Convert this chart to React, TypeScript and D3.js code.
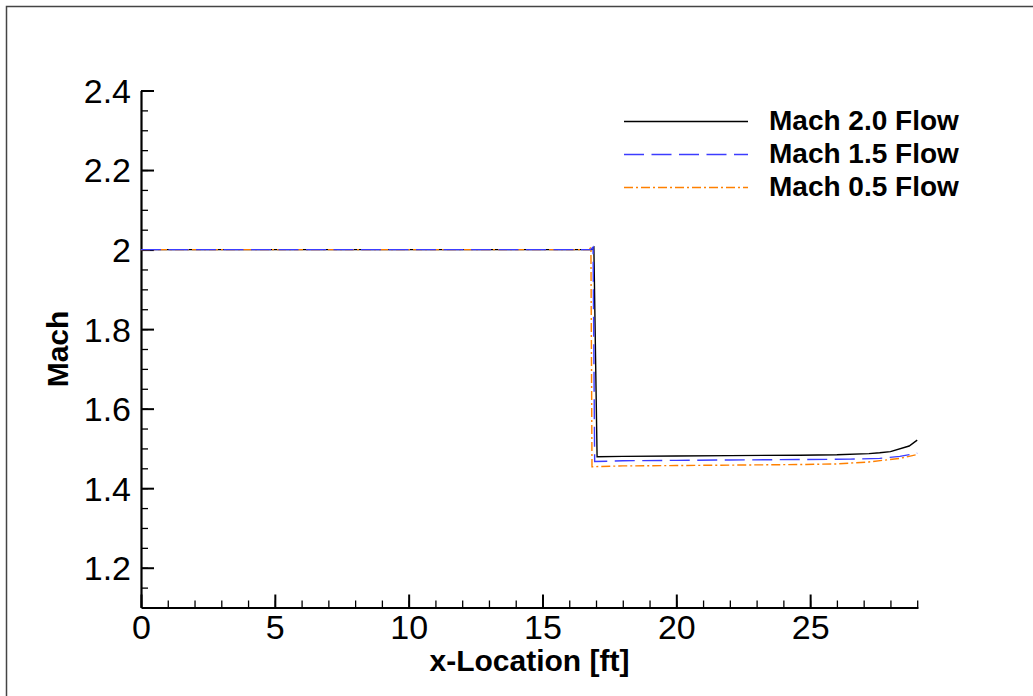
import React, { useEffect, useRef } from 'react';
import * as d3 from 'd3';

// x-Location [ft] / Mach readings for each case
const mach20X = [0, 16.85, 16.92, 17.04, 18, 20, 22, 24.6, 26, 27.2, 27.6, 28.0, 28.7, 29.0];
const mach20Y = [2.0, 2.0, 2.005, 1.479, 1.48, 1.481, 1.482, 1.483, 1.484, 1.487, 1.489, 1.492, 1.506, 1.521];

const mach15X = [0, 16.8, 16.89, 16.95, 18, 20, 22, 24.6, 26.5, 27.6, 28.35, 29.0];
const mach15Y = [2.0, 2.0, 2.006, 1.467, 1.469, 1.47, 1.471, 1.472, 1.473, 1.475, 1.48, 1.488];

const mach05X = [0, 16.75, 16.81, 16.85, 18, 20, 22, 24.6, 26.0, 27.2, 28.35, 29.0];
const mach05Y = [2.0, 2.0, 2.006, 1.454, 1.456, 1.457, 1.458, 1.4595, 1.461, 1.466, 1.475, 1.4846];

const seriesNames = ['Mach 2.0 Flow', 'Mach 1.5 Flow', 'Mach 0.5 Flow'];

const xTicks = [0, 5, 10, 15, 20, 25];
const xTickLabels = ['0', '5', '10', '15', '20', '25'];
const yTicks = [1.2, 1.4, 1.6, 1.8, 2.0, 2.2, 2.4];
const yTickLabels = ['1.2', '1.4', '1.6', '1.8', '2', '2.2', '2.4'];

const FONT = '"Liberation Sans", Arial, Helvetica, sans-serif';

const App: React.FC = () => {
  const svgRef = useRef<SVGSVGElement>(null);

  useEffect(() => {
    if (!svgRef.current) return;
    const svg = d3.select(svgRef.current);
    svg.selectAll('*').remove();

    const x = d3.scaleLinear().domain([0, 29.03]).range([141, 918]);
    const y = d3.scaleLinear().domain([1.1, 2.4]).range([607.5, 90.5]);

    // page frame
    svg.append('rect')
      .attr('x', 6.5).attr('y', 6.5)
      .attr('width', 1100).attr('height', 760)
      .attr('fill', 'none')
      .attr('stroke', '#444')
      .attr('stroke-width', 1.5);

    // minor ticks first
    const xMinor = d3.axisBottom(x).tickValues(d3.range(0, 30, 1)).tickSize(-7).tickSizeOuter(0).tickFormat(() => '');
    const yMinor = d3.axisLeft(y).tickValues(d3.range(1.15, 2.4, 0.05)).tickSize(-7).tickSizeOuter(0).tickFormat(() => '');

    const gxm = svg.append('g').attr('transform', `translate(0,${y.range()[0]})`).call(xMinor);
    const gym = svg.append('g').attr('transform', `translate(${x.range()[0]},0)`).call(yMinor);
    [gxm, gym].forEach(g => {
      g.select('.domain').remove();
      g.selectAll('line').attr('stroke', '#000').attr('stroke-width', 1.3);
    });

    // major axes
    const xAxis = d3.axisBottom(x)
      .tickValues(xTicks)
      .tickSize(-13)
      .tickSizeOuter(0)
      .tickPadding(10)
      .tickFormat((d, i) => xTickLabels[i]);
    const yAxis = d3.axisLeft(y)
      .tickValues(yTicks)
      .tickSize(-13)
      .tickSizeOuter(0)
      .tickPadding(10)
      .tickFormat((d, i) => yTickLabels[i]);

    const gx = svg.append('g').attr('transform', `translate(0,${y.range()[0]})`).call(xAxis);
    const gy = svg.append('g').attr('transform', `translate(${x.range()[0]},0)`).call(yAxis);
    [gx, gy].forEach(g => {
      g.select('.domain').attr('stroke', '#000').attr('stroke-width', 2.2);
      g.selectAll('line').attr('stroke', '#000').attr('stroke-width', 2);
      g.selectAll('text')
        .style('font-family', FONT)
        .style('font-size', '34px')
        .attr('fill', '#000');
    });
    gx.selectAll('text').attr('dy', null).attr('y', 31);
    gy.selectAll('text').attr('dy', '0.35em').attr('x', -10);

    // curves
    const line = d3.line<[number, number]>().x(d => x(d[0])).y(d => y(d[1]));
    const series = [
      { xs: mach20X, ys: mach20Y, color: '#000000', dash: null as string | null },
      { xs: mach05X, ys: mach05Y, color: '#ff8000', dash: '9,3,2,3' },
      { xs: mach15X, ys: mach15Y, color: '#3c3cff', dash: '20,7.5' },
    ];
    series.forEach(s => {
      const pts = s.xs.map((v, i) => [v, s.ys[i]] as [number, number]);
      svg.append('path')
        .attr('d', line(pts))
        .attr('fill', 'none')
        .attr('stroke', s.color)
        .attr('stroke-width', 1.4)
        .attr('stroke-dasharray', s.dash);
    });

    // axis titles
    svg.append('text')
      .attr('x', (x.range()[0] + x.range()[1]) / 2)
      .attr('y', 671)
      .attr('text-anchor', 'middle')
      .style('font-family', FONT)
      .style('font-size', '30px')
      .style('font-weight', 'bold')
      .text('x-Location [ft]');

    svg.append('text')
      .attr('transform', `translate(68,${(y.range()[0] + y.range()[1]) / 2}) rotate(-90)`)
      .attr('text-anchor', 'middle')
      .style('font-family', FONT)
      .style('font-size', '30px')
      .style('font-weight', 'bold')
      .text('Mach');

    // legend
    const legendStyles = [
      { color: '#000000', dash: null as string | null },
      { color: '#3c3cff', dash: '20,7.5' },
      { color: '#ff8000', dash: '9,3,2,3' },
    ];
    const legend = svg.append('g').attr('transform', 'translate(624,130)');
    seriesNames.forEach((name, i) => {
      const row = legend.append('g').attr('transform', `translate(0,${i * 33})`);
      row.append('line')
        .attr('x1', 0).attr('x2', 124)
        .attr('y1', -8.5).attr('y2', -8.5)
        .attr('stroke', legendStyles[i].color)
        .attr('stroke-width', 1.4)
        .attr('stroke-dasharray', legendStyles[i].dash);
      row.append('text')
        .attr('x', 145)
        .attr('y', 0)
        .style('font-family', FONT)
        .style('font-size', '28px')
        .style('font-weight', 'bold')
        .text(name);
    });
  }, []);

  return (
    <svg
      ref={svgRef}
      width={1033}
      height={696}
      style={{ position: 'absolute', left: 0, top: 0, background: '#fff' }}
    />
  );
};

export default App;
